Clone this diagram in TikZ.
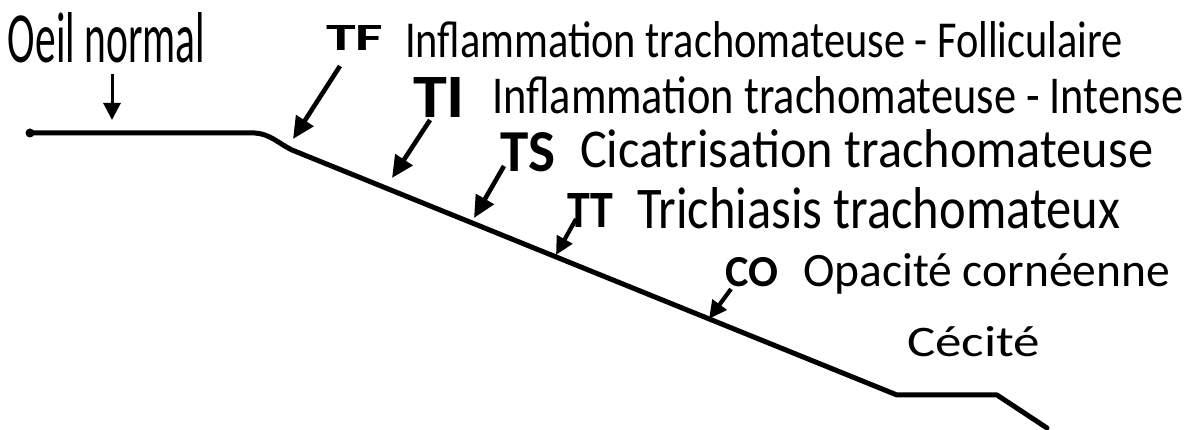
\documentclass[tikz,border=0pt]{standalone}
\usepackage{fontspec}
\usepackage{graphicx}
\setmainfont{Carlito}
\usetikzlibrary{arrows.meta}
\newcommand\fitbox[3]{\resizebox{#1pt}{#2pt}{#3}}
\begin{document}
\begin{tikzpicture}[x=1pt,y=-1pt,
  lbl/.style={anchor=base west,inner sep=0pt,outer sep=0pt},
  curve/.style={line width=5pt,line join=round,line cap=round},
  pointer/.style={line width=4.6pt,-{Triangle[length=22pt,width=20pt]}},
  smallpointer/.style={line width=4.2pt,-{Triangle[length=18pt,width=17pt]}}]
\useasboundingbox (0,0) rectangle (1187,430);
% labels
\node[lbl] (oeil) at (8,63) {\fitbox{197}{50}{Oeil normal}};
\node[lbl] (tf) at (326,51) {\fitbox{57}{25}{\bfseries TF}};
\node[lbl] (tftxt) at (405,58) {\fitbox{718}{36}{Inflammation trachomateuse - Folliculaire}};
\node[lbl] (ti) at (413,118) {\fitbox{52}{40}{\bfseries TI}};
\node[lbl] (titxt) at (492,114) {\fitbox{691}{37}{Inflammation trachomateuse - Intense}};
\node[lbl] (ts) at (500,172) {\fitbox{55}{39}{\bfseries TS}};
\node[lbl] (tstxt) at (580,168) {\fitbox{573}{38}{Cicatrisation trachomateuse}};
\node[lbl] (tt) at (567,228) {\fitbox{46}{34}{\bfseries TT}};
\node[lbl] (tttxt) at (637,229) {\fitbox{483}{41}{Trichiasis trachomateux}};
\node[lbl] (co) at (725,287) {\fitbox{53}{29}{\bfseries CO}};
\node[lbl] (cotxt) at (803,287) {\fitbox{367}{33}{Opacité cornéenne}};
\node[lbl] (cecite) at (907,357) {\fitbox{133}{30}{Cécité}};
% the curve
\coordinate (p0) at (30,133);
\coordinate (p1) at (255,133);
\coordinate (p2) at (292,150);
\coordinate (p3) at (897,395);
\coordinate (p4) at (997,395);
\coordinate (p5) at (1047,428);
\fill (p0) circle (4.5pt);
\draw[curve] (p0) -- (p1) .. controls (270,134) and (278,143) .. (p2) -- (p3) -- (p4) -- (p5);
% arrows
\coordinate (a0s) at (112,74);  \coordinate (a0e) at (112,120);
\coordinate (a1s) at (340,66);  \coordinate (a1e) at (293,139);
\coordinate (a2s) at (430,120); \coordinate (a2e) at (392,178);
\coordinate (a3s) at (504,166); \coordinate (a3e) at (474,218);
\coordinate (a4s) at (576,219); \coordinate (a4e) at (556,255);
\coordinate (a5s) at (731,289); \coordinate (a5e) at (709,319);
\draw[line width=3pt,-{Triangle[length=17pt,width=17pt]}] (a0s) -- (a0e);
\draw[pointer] (a1s) -- (a1e);
\draw[pointer] (a2s) -- (a2e);
\draw[pointer] (a3s) -- (a3e);
\draw[smallpointer] (a4s) -- (a4e);
\draw[smallpointer] (a5s) -- (a5e);
\end{tikzpicture}
\end{document}
